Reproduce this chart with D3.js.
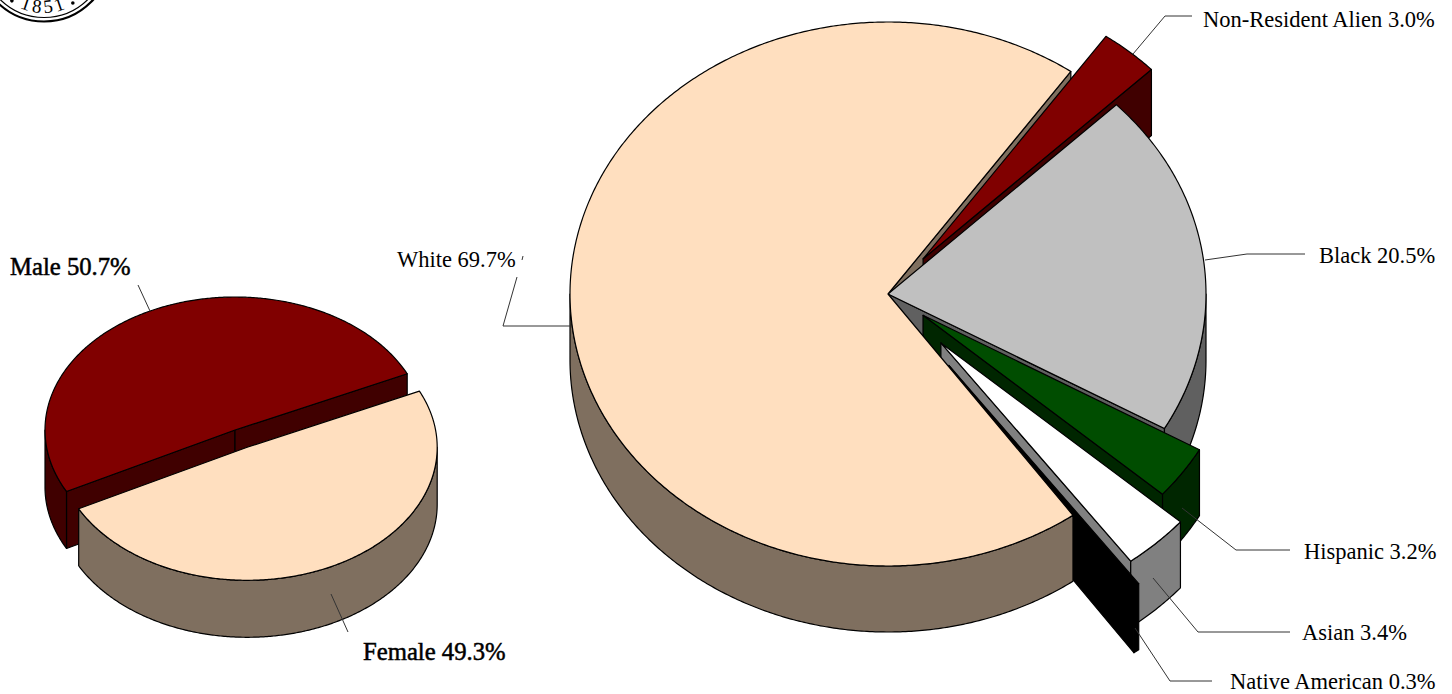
<!DOCTYPE html>
<html>
<head>
<meta charset="utf-8">
<script src="https://cdn.jsdelivr.net/npm/d3@7"></script>
<style>
body { margin: 0; background: #fff; }
svg { display: block; }
text { font-family: "Liberation Serif", serif; font-size: 22.5px; fill: #000; }
</style>
</head>
<body>
<div id="chart"></div>
<script>
// race / ethnicity pie, clockwise from the gap at the upper right
var raceNames = ["Non-Resident Alien", "Black", "Hispanic", "Asian", "Native American", "White"];
var raceValues = [3.0, 20.5, 3.2, 3.4, 0.3, 69.7];

var genderNames = ["Female", "Male"];
var genderValues = [49.3, 50.7];

// how far each slice is pulled out, as a share of the radius
var raceExplode = [0.17, 0, 0.135, 0.245, 0.325, 0];
var genderExplode = [0.145, 0];

var raceColors = ["#800000", "#c0c0c0", "#004d00", "#ffffff", "#000000", "#ffdfbf"];
var raceSides = ["#400000", "#606060", "#002600", "#808080", "#000000", "#7f6f5f"];
var genderColors = ["#ffdfbf", "#800000"];
var genderSides = ["#7f6f5f", "#400000"];

// label position and leader polyline for each slice
var raceLabels = [
    {x: 1203, y: 27, leader: [[1133, 54], [1165, 16], [1192, 16]]},
    {x: 1319, y: 263, leader: [[1205, 260], [1247, 254], [1305, 254]]},
    {x: 1304, y: 559, leader: [[1182, 508], [1236, 550], [1290, 550]]},
    {x: 1302, y: 640, leader: [[1153, 578], [1198, 632], [1290, 632]]},
    {x: 1230, y: 689, leader: [[1135, 628], [1170, 681], [1212, 681]]},
    {x: 397, y: 267, leader: [[570, 326], [503, 326], [517, 277]]}
];
var genderLabels = [
    {x: 363, y: 660, leader: [[331, 594], [348, 632]]},
    {x: 10, y: 275, leader: [[150, 311], [138, 285]]}
];

var width = 1452, height = 694;
var deg = Math.PI / 180;

var svg = d3.select("#chart")
    .append("svg")
    .attr("width", width)
    .attr("height", height);

var line = d3.line();

// scales take the unit circle onto the tilted top face of the pie
function makePie(values, explode, colors, sides, opts) {
    var xScale = d3.scaleLinear().domain([-1, 1]).range([opts.cx - opts.rx, opts.cx + opts.rx]);
    var yScale = d3.scaleLinear().domain([-1, 1]).range([opts.cy + opts.ry, opts.cy - opts.ry]);

    var slices = d3.pie().sort(null)
        .startAngle(opts.start * deg)
        .endAngle((opts.start + 360) * deg)(values);

    slices.forEach(function(s, i) {
        var mid = (s.startAngle + s.endAngle) / 2;
        s.dx = xScale(Math.sin(mid) * explode[i]) - xScale(0);
        s.dy = yScale(Math.cos(mid) * explode[i]) - yScale(0);
        s.fill = colors[i];
        s.side = sides[i];
        // point on the top face, r = 0 is the apex
        s.pt = function(a, r) {
            return [xScale(Math.sin(a) * r) + s.dx, yScale(Math.cos(a) * r) + s.dy];
        };
        s.arcPts = function(a0, a1) {
            var n = Math.max(2, Math.ceil((a1 - a0) / (0.5 * deg)));
            return d3.range(n + 1).map(function(k) { return s.pt(a0 + (a1 - a0) * k / n, 1); });
        };
    });

    function draw(pts, fill) {
        svg.append("path")
            .attr("d", line(pts) + "Z")
            .attr("fill", fill)
            .attr("stroke", "#000")
            .attr("stroke-width", 1.2)
            .attr("stroke-linejoin", "round");
    }
    function drop(pts) {
        return pts.map(function(p) { return [p[0], p[1] + opts.depth]; }).reverse();
    }

    // flat side of a slice, along one of its radial cuts
    function cut(s, a) {
        var pts = [s.pt(a, 0), s.pt(a, 1)];
        draw(pts.concat(drop(pts)), s.side);
    }
    // outer wall, only the front half of the ellipse shows
    function rim(s) {
        var a0 = s.startAngle, a1 = s.endAngle;
        [[90 * deg, 270 * deg], [450 * deg, 630 * deg]].forEach(function(f) {
            var b0 = Math.max(a0, f[0]), b1 = Math.min(a1, f[1]);
            if (b1 > b0) {
                var pts = s.arcPts(b0, b1);
                draw(pts.concat(drop(pts)), s.side);
            }
        });
    }
    function cuts(s) {
        if (Math.sin(s.startAngle) < 0) cut(s, s.startAngle);
        if (Math.sin(s.endAngle) > 0) cut(s, s.endAngle);
    }
    function face(s) {
        draw([s.pt(s.startAngle, 0)].concat(s.arcPts(s.startAngle, s.endAngle)), s.fill);
    }

    // painter's order: cuts of the last slice sit behind everything
    var last = opts.frontIndex;
    cuts(slices[last]);
    d3.range(slices.length).filter(function(i) { return i !== last; }).forEach(function(i) {
        cuts(slices[i]);
        rim(slices[i]);
        face(slices[i]);
    });
    rim(slices[last]);
    face(slices[last]);
}

makePie(raceValues, raceExplode, raceColors, raceSides,
    {cx: 888, cy: 294, rx: 318, ry: 272, depth: 66, start: 35.1, frontIndex: 5});

makePie(genderValues, genderExplode, genderColors, genderSides,
    {cx: 235, cy: 430, rx: 190, ry: 133, depth: 57, start: 65, frontIndex: 0});

function drawLabels(names, values, labels, bold) {
    labels.forEach(function(l, i) {
        svg.append("path")
            .attr("d", line(l.leader))
            .attr("fill", "none")
            .attr("stroke", "#333")
            .attr("stroke-width", 1);
        var t = svg.append("text")
            .attr("x", l.x)
            .attr("y", l.y)
            .text(names[i] + " " + values[i].toFixed(1) + "%");
        if (bold) t.style("font-size", "24.7px").attr("stroke", "#000").attr("stroke-width", 0.5);
    });
}
drawLabels(raceNames, raceValues, raceLabels, false);
drawLabels(genderNames, genderValues, genderLabels, true);

// stray tick left above the White leader
svg.append("path").attr("d", line([[523, 256], [522, 260]])).attr("stroke", "#333").attr("fill", "none");

// bottom of the college seal, cut off by the page edge
var seal = svg.append("g").attr("transform", "translate(44,-45)");
seal.append("circle").attr("r", 66.5).attr("fill", "none").attr("stroke", "#000").attr("stroke-width", 2.2);
seal.append("circle").attr("r", 62.5).attr("fill", "none").attr("stroke", "#000").attr("stroke-width", 1.2);
var sealArc = d3.path();
sealArc.arc(0, 0, 58, 150 * deg, 30 * deg, true);
seal.append("path").attr("id", "sealArc").attr("fill", "none").attr("d", sealArc.toString());
seal.append("text")
    .style("font-size", "19px")
    .style("letter-spacing", "3px")
    .attr("text-anchor", "middle")
    .append("textPath")
    .attr("href", "#sealArc")
    .attr("startOffset", "50%")
    .text("1851");
seal.selectAll("circle.dot").data([-35, 31]).enter().append("circle")
    .attr("class", "dot")
    .attr("cx", function(d) { return Math.sin(d * deg) * 56; })
    .attr("cy", function(d) { return Math.cos(d * deg) * 56; })
    .attr("r", 1.8);
</script>
</body>
</html>
